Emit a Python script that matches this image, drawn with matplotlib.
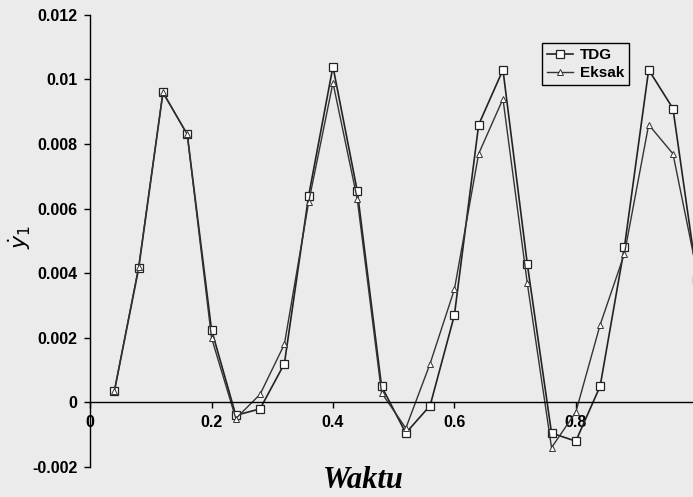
import numpy as np
import matplotlib
matplotlib.use('Agg')
import matplotlib.pyplot as plt

# ================================== data ==================================
waktu = [0.04, 0.08, 0.12, 0.16, 0.20, 0.24, 0.28, 0.32, 0.36, 0.40,
         0.44, 0.48, 0.52, 0.56, 0.60, 0.64, 0.68, 0.72, 0.76, 0.80,
         0.84, 0.88, 0.92, 0.96, 1.00]

tdg = [0.00035, 0.00415, 0.0096, 0.0083, 0.00225, -0.0004, -0.0002, 0.0012, 0.0064, 0.0104,
       0.00655, 0.0005, -0.00095, -0.0001, 0.0027, 0.0086, 0.0103, 0.0043, -0.00095, -0.0012,
       0.0005, 0.0048, 0.0103, 0.0091, 0.0038]

eksak = [0.00035, 0.0042, 0.0096, 0.0083, 0.0020, -0.0005, 0.00025, 0.0018, 0.0062, 0.0099,
         0.0063, 0.0003, -0.0008, 0.0012, 0.0035, 0.0077, 0.0094, 0.0037, -0.0014, -0.0003,
         0.0024, 0.0046, 0.0086, 0.0077, 0.0040]

xticks = [0, 0.2, 0.4, 0.6, 0.8]
xticklabels = ['0', '0.2', '0.4', '0.6', '0.8']
yticks = [-0.002, 0, 0.002, 0.004, 0.006, 0.008, 0.01, 0.012]
yticklabels = ['-0.002', '0', '0.002', '0.004', '0.006', '0.008', '0.01', '0.012']
# ==================================  end data ==================================

bg = '#ebebeb'
fig = plt.figure(figsize=(6.93, 4.97), dpi=100, facecolor=bg)
ax = fig.add_axes([0.130, 0.0604, 0.870, 0.9096])
ax.set_facecolor(bg)

ax.plot(waktu, tdg, color='#222222', lw=1.2, marker='s', ms=6,
        mfc='white', mec='#222222', mew=0.9, label='TDG')
ax.plot(waktu, eksak, color='#333333', lw=1.0, marker='^', ms=4,
        mfc='white', mec='#333333', mew=0.7, label='Eksak')

ax.set_xlim(0, 0.993)
ax.set_ylim(-0.002, 0.012)

ax.spines['top'].set_visible(False)
ax.spines['right'].set_visible(False)
ax.spines['bottom'].set_position(('data', 0))
ax.spines['left'].set_linewidth(1.0)
ax.spines['bottom'].set_linewidth(1.0)

ax.set_xticks(xticks)
ax.set_xticklabels(xticklabels)
ax.set_yticks(yticks)
ax.set_yticklabels(yticklabels)
ax.tick_params(axis='both', direction='out', length=4, width=1,
               labelsize=11.5, pad=5)
for lbl in ax.get_xticklabels() + ax.get_yticklabels():
    lbl.set_fontweight('bold')
    lbl.set_family('Liberation Sans')

ax.set_xlabel('Waktu', fontsize=22, fontstyle='italic', fontweight='bold',
              family='Liberation Serif')
ax.xaxis.set_label_coords(0.454, 0.003)
ax.set_ylabel(r'$\dot{y}_1$', fontsize=16)
ax.yaxis.set_label_coords(-0.095, 0.51)

leg = ax.legend(loc='upper right', bbox_to_anchor=(0.907, 0.955),
                prop={'family': 'Liberation Sans', 'weight': 'bold', 'size': 11},
                frameon=True, fancybox=False, edgecolor='black',
                facecolor=bg, framealpha=1, handlelength=1.7,
                borderpad=0.35, labelspacing=0.25, handletextpad=0.4)
leg.get_frame().set_linewidth(1.0)

fig.savefig('out.png', dpi=100, facecolor=bg)
